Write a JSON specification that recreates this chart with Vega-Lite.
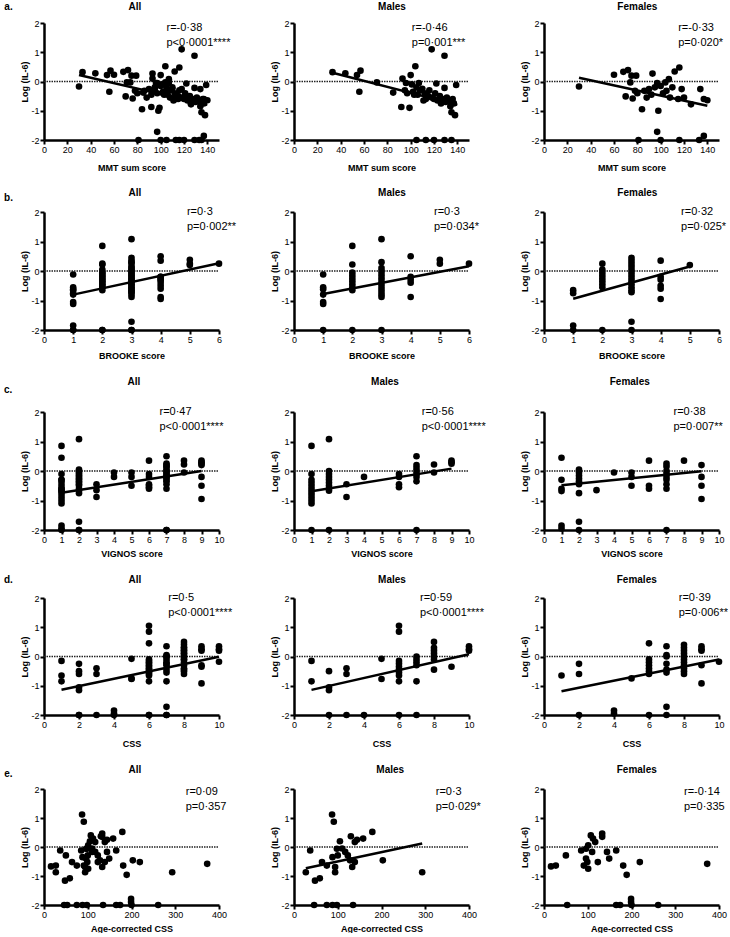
{
"$schema":"https://vega.github.io/schema/vega-lite/v6.json",
"padding":{"left":3,"top":1,"right":0,"bottom":0},
"spacing":16,
"datasets":{
"mmt":[
{"x":33,"y":0.32,"s":"M"},{"x":44,"y":0.28,"s":"M"},{"x":54,"y":0.22,"s":"M"},{"x":57,"y":0.37,"s":"M"},{"x":56,"y":-0.35,"s":"M"},{"x":71,"y":-0.03,"s":"M"},{"x":85,"y":-0.38,"s":"M"},{"x":92,"y":-0.87,"s":"M"},{"x":93,"y":0.1,"s":"M"},{"x":95,"y":-0.3,"s":"M"},{"x":96,"y":-0.05,"s":"M"},{"x":97,"y":-0.4,"s":"M"},{"x":99,"y":-0.9,"s":"M"},{"x":100,"y":0.22,"s":"M"},{"x":101,"y":-0.1,"s":"M"},{"x":102,"y":-0.35,"s":"M"},{"x":103,"y":-0.45,"s":"M"},{"x":104,"y":0.52,"s":"M"},{"x":105,"y":-0.2,"s":"M"},{"x":106,"y":-0.45,"s":"M"},{"x":107,"y":-0.05,"s":"M"},{"x":108,"y":-0.3,"s":"M"},{"x":110,"y":-0.25,"s":"M"},{"x":111,"y":-0.65,"s":"M"},{"x":112,"y":-0.4,"s":"M"},{"x":113,"y":-0.6,"s":"M"},{"x":115,"y":-0.5,"s":"M"},{"x":116,"y":-0.3,"s":"M"},{"x":118,"y":1.1,"s":"M"},{"x":118,"y":-0.55,"s":"M"},{"x":120,"y":-0.6,"s":"M"},{"x":121,"y":-0.4,"s":"M"},{"x":122,"y":-0.07,"s":"M"},{"x":123,"y":-0.65,"s":"M"},{"x":125,"y":-0.5,"s":"M"},{"x":126,"y":-0.75,"s":"M"},{"x":128,"y":-0.6,"s":"M"},{"x":129,"y":0.88,"s":"M"},{"x":129,"y":-0.22,"s":"M"},{"x":130,"y":-0.7,"s":"M"},{"x":131,"y":-0.55,"s":"M"},{"x":133,"y":-0.65,"s":"M"},{"x":134,"y":-0.85,"s":"M"},{"x":135,"y":-1.05,"s":"M"},{"x":136,"y":-0.6,"s":"M"},{"x":137,"y":-0.75,"s":"M"},{"x":138,"y":-1.15,"s":"M"},{"x":139,"y":-0.12,"s":"M"},{"x":105,"y":-2,"s":"M"},{"x":113,"y":-2,"s":"M"},{"x":120,"y":-2,"s":"M"},{"x":129,"y":-2,"s":"M"},{"x":135,"y":-2,"s":"M"},
{"x":30,"y":-0.17,"s":"F"},{"x":60,"y":0.23,"s":"F"},{"x":68,"y":0.33,"s":"F"},{"x":72,"y":0.39,"s":"F"},{"x":74,"y":-0.03,"s":"F"},{"x":75,"y":0.2,"s":"F"},{"x":79,"y":0.2,"s":"F"},{"x":70,"y":-0.51,"s":"F"},{"x":76,"y":-0.58,"s":"F"},{"x":78,"y":-0.32,"s":"F"},{"x":80,"y":-0.4,"s":"F"},{"x":84,"y":-0.95,"s":"F"},{"x":86,"y":-0.32,"s":"F"},{"x":88,"y":-0.55,"s":"F"},{"x":90,"y":-0.26,"s":"F"},{"x":92,"y":-0.45,"s":"F"},{"x":93,"y":0.27,"s":"F"},{"x":95,"y":-0.2,"s":"F"},{"x":97,"y":-0.05,"s":"F"},{"x":98,"y":-1.0,"s":"F"},{"x":100,"y":-0.15,"s":"F"},{"x":102,"y":-0.4,"s":"F"},{"x":104,"y":-0.03,"s":"F"},{"x":105,"y":-0.32,"s":"F"},{"x":107,"y":0.08,"s":"F"},{"x":108,"y":-0.55,"s":"F"},{"x":110,"y":-0.2,"s":"F"},{"x":112,"y":0.34,"s":"F"},{"x":115,"y":-0.6,"s":"F"},{"x":116,"y":0.48,"s":"F"},{"x":118,"y":-0.26,"s":"F"},{"x":120,"y":-0.55,"s":"F"},{"x":126,"y":-0.78,"s":"F"},{"x":134,"y":-0.26,"s":"F"},{"x":137,"y":-0.6,"s":"F"},{"x":140,"y":-0.64,"s":"F"},{"x":97,"y":-1.72,"s":"F"},{"x":81,"y":-2,"s":"F"},{"x":100,"y":-2,"s":"F"},{"x":116,"y":-2,"s":"F"},{"x":133,"y":-2,"s":"F"},{"x":137,"y":-1.86,"s":"F"}
],
"brooke":[
{"x":1,"y":-0.12,"s":"M"},{"x":1,"y":-0.55,"s":"M"},{"x":1,"y":-0.62,"s":"M"},{"x":1,"y":-0.8,"s":"M"},{"x":1,"y":-1.05,"s":"M"},{"x":1,"y":-1.12,"s":"M"},{"x":1,"y":-2,"s":"M"},
{"x":2,"y":0.85,"s":"M"},{"x":2,"y":0.22,"s":"M"},{"x":2,"y":-0.05,"s":"M"},{"x":2,"y":-0.15,"s":"M"},{"x":2,"y":-0.25,"s":"M"},{"x":2,"y":-0.35,"s":"M"},{"x":2,"y":-0.45,"s":"M"},{"x":2,"y":-0.55,"s":"M"},{"x":2,"y":-0.65,"s":"M"},{"x":2,"y":-2,"s":"M"},
{"x":3,"y":1.08,"s":"M"},{"x":3,"y":0.3,"s":"M"},{"x":3,"y":0.1,"s":"M"},{"x":3,"y":0,"s":"M"},{"x":3,"y":-0.1,"s":"M"},{"x":3,"y":-0.2,"s":"M"},{"x":3,"y":-0.3,"s":"M"},{"x":3,"y":-0.4,"s":"M"},{"x":3,"y":-0.5,"s":"M"},{"x":3,"y":-0.6,"s":"M"},{"x":3,"y":-0.7,"s":"M"},{"x":3,"y":-0.8,"s":"M"},{"x":3,"y":-0.88,"s":"M"},{"x":3,"y":-2,"s":"M"},
{"x":4,"y":0.5,"s":"M"},{"x":4,"y":-0.2,"s":"M"},{"x":4,"y":-0.3,"s":"M"},{"x":4,"y":-0.4,"s":"M"},{"x":4,"y":-0.88,"s":"M"},
{"x":5,"y":0.38,"s":"M"},{"x":5,"y":0.25,"s":"M"},{"x":6,"y":0.25,"s":"M"},
{"x":1,"y":-0.65,"s":"F"},{"x":1,"y":-0.75,"s":"F"},{"x":1,"y":-1.85,"s":"F"},{"x":1,"y":-2,"s":"F"},
{"x":2,"y":0.25,"s":"F"},{"x":2,"y":0.05,"s":"F"},{"x":2,"y":-0.05,"s":"F"},{"x":2,"y":-0.15,"s":"F"},{"x":2,"y":-0.25,"s":"F"},{"x":2,"y":-0.35,"s":"F"},{"x":2,"y":-0.45,"s":"F"},{"x":2,"y":-0.55,"s":"F"},{"x":2,"y":-2,"s":"F"},
{"x":3,"y":0.45,"s":"F"},{"x":3,"y":0.35,"s":"F"},{"x":3,"y":0.25,"s":"F"},{"x":3,"y":0.15,"s":"F"},{"x":3,"y":0.05,"s":"F"},{"x":3,"y":-0.05,"s":"F"},{"x":3,"y":-0.15,"s":"F"},{"x":3,"y":-0.25,"s":"F"},{"x":3,"y":-0.35,"s":"F"},{"x":3,"y":-0.45,"s":"F"},{"x":3,"y":-0.55,"s":"F"},{"x":3,"y":-0.65,"s":"F"},{"x":3,"y":-0.72,"s":"F"},{"x":3,"y":-1.72,"s":"F"},{"x":3,"y":-2,"s":"F"},
{"x":4,"y":0.35,"s":"F"},{"x":4,"y":-0.2,"s":"F"},{"x":4,"y":-0.3,"s":"F"},{"x":4,"y":-0.5,"s":"F"},{"x":4,"y":-0.6,"s":"F"},{"x":4,"y":-0.95,"s":"F"},{"x":5,"y":0.2,"s":"F"}
],
"vignos":[
{"x":1,"y":0.85,"s":"M"},{"x":1,"y":-0.1,"s":"M"},{"x":1,"y":-0.3,"s":"M"},{"x":1,"y":-0.4,"s":"M"},{"x":1,"y":-0.5,"s":"M"},{"x":1,"y":-0.6,"s":"M"},{"x":1,"y":-0.7,"s":"M"},{"x":1,"y":-0.8,"s":"M"},{"x":1,"y":-0.9,"s":"M"},{"x":1,"y":-1.0,"s":"M"},{"x":1,"y":-1.1,"s":"M"},{"x":1,"y":-2,"s":"M"},
{"x":2,"y":1.08,"s":"M"},{"x":2,"y":0,"s":"M"},{"x":2,"y":-0.1,"s":"M"},{"x":2,"y":-0.2,"s":"M"},{"x":2,"y":-0.3,"s":"M"},{"x":2,"y":-0.4,"s":"M"},{"x":2,"y":-0.5,"s":"M"},{"x":2,"y":-0.6,"s":"M"},{"x":2,"y":-0.67,"s":"M"},{"x":2,"y":-2,"s":"M"},
{"x":3,"y":-0.45,"s":"M"},{"x":3,"y":-0.88,"s":"M"},{"x":4,"y":-0.2,"s":"M"},
{"x":6,"y":-0.1,"s":"M"},{"x":6,"y":-0.2,"s":"M"},{"x":6,"y":-0.45,"s":"M"},{"x":6,"y":-0.55,"s":"M"},
{"x":7,"y":0.5,"s":"M"},{"x":7,"y":0.2,"s":"M"},{"x":7,"y":0.1,"s":"M"},{"x":7,"y":0,"s":"M"},{"x":7,"y":-0.1,"s":"M"},{"x":7,"y":-0.2,"s":"M"},{"x":7,"y":-0.35,"s":"M"},{"x":7,"y":-2,"s":"M"},
{"x":8,"y":0.22,"s":"M"},{"x":8,"y":-0.05,"s":"M"},{"x":9,"y":0.35,"s":"M"},{"x":9,"y":0.3,"s":"M"},{"x":9,"y":0.25,"s":"M"},
{"x":1,"y":0.45,"s":"F"},{"x":1,"y":-0.3,"s":"F"},{"x":1,"y":-0.6,"s":"F"},{"x":1,"y":-0.68,"s":"F"},{"x":1,"y":-1.85,"s":"F"},{"x":1,"y":-1.95,"s":"F"},
{"x":2,"y":0.05,"s":"F"},{"x":2,"y":-0.05,"s":"F"},{"x":2,"y":-0.15,"s":"F"},{"x":2,"y":-0.25,"s":"F"},{"x":2,"y":-0.35,"s":"F"},{"x":2,"y":-0.45,"s":"F"},{"x":2,"y":-0.75,"s":"F"},{"x":2,"y":-1.72,"s":"F"},{"x":2,"y":-2,"s":"F"},
{"x":3,"y":-0.65,"s":"F"},{"x":4,"y":-0.05,"s":"F"},{"x":5,"y":-0.05,"s":"F"},{"x":5,"y":-0.2,"s":"F"},{"x":5,"y":-0.5,"s":"F"},
{"x":6,"y":0.35,"s":"F"},{"x":6,"y":-0.5,"s":"F"},{"x":6,"y":-0.6,"s":"F"},
{"x":7,"y":0.25,"s":"F"},{"x":7,"y":0.15,"s":"F"},{"x":7,"y":0,"s":"F"},{"x":7,"y":-0.1,"s":"F"},{"x":7,"y":-0.2,"s":"F"},{"x":7,"y":-0.3,"s":"F"},{"x":7,"y":-0.45,"s":"F"},{"x":7,"y":-0.6,"s":"F"},{"x":7,"y":-2,"s":"F"},
{"x":8,"y":0.35,"s":"F"},{"x":9,"y":0.2,"s":"F"},{"x":9,"y":-0.2,"s":"F"},{"x":9,"y":-0.5,"s":"F"},{"x":9,"y":-0.95,"s":"F"}
],
"css":[
{"x":1,"y":-0.15,"s":"M"},{"x":1,"y":-0.85,"s":"M"},{"x":2,"y":-0.5,"s":"M"},{"x":2,"y":-1.05,"s":"M"},{"x":2,"y":-1.15,"s":"M"},{"x":2,"y":-2,"s":"M"},{"x":3,"y":-0.4,"s":"M"},{"x":3,"y":-0.6,"s":"M"},{"x":3,"y":-2,"s":"M"},{"x":4,"y":-2,"s":"M"},{"x":5,"y":-0.08,"s":"M"},{"x":5,"y":-0.77,"s":"M"},
{"x":6,"y":1.05,"s":"M"},{"x":6,"y":0.85,"s":"M"},{"x":6,"y":-0.15,"s":"M"},{"x":6,"y":-0.25,"s":"M"},{"x":6,"y":-0.35,"s":"M"},{"x":6,"y":-0.45,"s":"M"},{"x":6,"y":-0.55,"s":"M"},{"x":6,"y":-0.65,"s":"M"},{"x":6,"y":-0.85,"s":"M"},{"x":6,"y":-2,"s":"M"},
{"x":7,"y":0,"s":"M"},{"x":7,"y":-0.1,"s":"M"},{"x":7,"y":-0.2,"s":"M"},{"x":7,"y":-0.3,"s":"M"},{"x":7,"y":-0.85,"s":"M"},{"x":7,"y":-2,"s":"M"},
{"x":8,"y":0.5,"s":"M"},{"x":8,"y":0.3,"s":"M"},{"x":8,"y":0.2,"s":"M"},{"x":8,"y":0.1,"s":"M"},{"x":8,"y":0,"s":"M"},{"x":8,"y":-0.1,"s":"M"},{"x":8,"y":-0.45,"s":"M"},{"x":9,"y":-0.35,"s":"M"},
{"x":10,"y":0.35,"s":"M"},{"x":10,"y":0.25,"s":"M"},{"x":10,"y":0.2,"s":"M"},
{"x":1,"y":-0.65,"s":"F"},{"x":2,"y":-0.25,"s":"F"},{"x":2,"y":-0.6,"s":"F"},{"x":2,"y":-2,"s":"F"},{"x":4,"y":-1.85,"s":"F"},{"x":4,"y":-1.95,"s":"F"},{"x":5,"y":-0.75,"s":"F"},
{"x":6,"y":0.45,"s":"F"},{"x":6,"y":-0.1,"s":"F"},{"x":6,"y":-0.2,"s":"F"},{"x":6,"y":-0.3,"s":"F"},{"x":6,"y":-0.4,"s":"F"},{"x":6,"y":-0.5,"s":"F"},{"x":6,"y":-0.6,"s":"F"},{"x":6,"y":-2,"s":"F"},
{"x":7,"y":0.35,"s":"F"},{"x":7,"y":0.05,"s":"F"},{"x":7,"y":0,"s":"F"},{"x":7,"y":-0.25,"s":"F"},{"x":7,"y":-0.45,"s":"F"},{"x":7,"y":-0.55,"s":"F"},{"x":7,"y":-1.72,"s":"F"},{"x":7,"y":-2,"s":"F"},
{"x":8,"y":0.4,"s":"F"},{"x":8,"y":0.3,"s":"F"},{"x":8,"y":0.2,"s":"F"},{"x":8,"y":0.1,"s":"F"},{"x":8,"y":0,"s":"F"},{"x":8,"y":-0.1,"s":"F"},{"x":8,"y":-0.2,"s":"F"},{"x":8,"y":-0.3,"s":"F"},{"x":8,"y":-0.4,"s":"F"},{"x":8,"y":-0.5,"s":"F"},{"x":8,"y":-0.6,"s":"F"},
{"x":9,"y":0.35,"s":"F"},{"x":9,"y":0.25,"s":"F"},{"x":9,"y":0.2,"s":"F"},{"x":9,"y":-0.3,"s":"F"},{"x":9,"y":-0.92,"s":"F"},{"x":10,"y":-0.18,"s":"F"}
],
"acss":[
{"x":27,"y":-0.87,"s":"M"},{"x":37,"y":-0.12,"s":"M"},{"x":48,"y":-1.16,"s":"M"},{"x":59,"y":-1.08,"s":"M"},{"x":64,"y":-0.52,"s":"M"},{"x":75,"y":-0.64,"s":"M"},{"x":87,"y":1.12,"s":"M"},{"x":91,"y":0.87,"s":"M"},{"x":88,"y":-0.35,"s":"M"},{"x":94,"y":-0.69,"s":"M"},{"x":94,"y":-0.87,"s":"M"},{"x":98,"y":-0.06,"s":"M"},{"x":100,"y":-0.29,"s":"M"},{"x":105,"y":0.2,"s":"M"},{"x":110,"y":-0.05,"s":"M"},{"x":117,"y":-0.17,"s":"M"},{"x":123,"y":-0.29,"s":"M"},{"x":128,"y":-0.46,"s":"M"},{"x":130,"y":0.37,"s":"M"},{"x":133,"y":-0.69,"s":"M"},{"x":139,"y":0.17,"s":"M"},{"x":139,"y":-0.52,"s":"M"},{"x":144,"y":0.25,"s":"M"},{"x":158,"y":0.29,"s":"M"},{"x":179,"y":0.52,"s":"M"},{"x":203,"y":-0.46,"s":"M"},{"x":293,"y":-0.87,"s":"M"},{"x":46,"y":-2,"s":"M"},{"x":75,"y":-2,"s":"M"},{"x":88,"y":-2,"s":"M"},{"x":98,"y":-2,"s":"M"},{"x":135,"y":-2,"s":"M"},
{"x":16,"y":-0.67,"s":"F"},{"x":27,"y":-0.64,"s":"F"},{"x":50,"y":-0.29,"s":"F"},{"x":85,"y":-0.12,"s":"F"},{"x":91,"y":-0.64,"s":"F"},{"x":96,"y":-0.4,"s":"F"},{"x":96,"y":-0.06,"s":"F"},{"x":99,"y":-0.52,"s":"F"},{"x":101,"y":-0.75,"s":"F"},{"x":101,"y":0.06,"s":"F"},{"x":107,"y":0.4,"s":"F"},{"x":112,"y":0.29,"s":"F"},{"x":117,"y":0.17,"s":"F"},{"x":110,"y":-0.17,"s":"F"},{"x":123,"y":-0.52,"s":"F"},{"x":133,"y":0.46,"s":"F"},{"x":133,"y":0.35,"s":"F"},{"x":144,"y":-0.17,"s":"F"},{"x":149,"y":-0.4,"s":"F"},{"x":165,"y":-0.12,"s":"F"},{"x":181,"y":-0.64,"s":"F"},{"x":189,"y":-0.96,"s":"F"},{"x":219,"y":-0.52,"s":"F"},{"x":373,"y":-0.58,"s":"F"},{"x":53,"y":-2,"s":"F"},{"x":165,"y":-2,"s":"F"},{"x":174,"y":-2,"s":"F"},{"x":199,"y":-1.79,"s":"F"},{"x":199,"y":-1.9,"s":"F"},{"x":200,"y":-2,"s":"F"},{"x":261,"y":-2,"s":"F"}
],
"lines":[
{"k":"aA","x":30,"y":0.22},{"k":"aA","x":140,"y":-0.8},
{"k":"aM","x":33,"y":0.3},{"k":"aM","x":140,"y":-0.8},
{"k":"aF","x":30,"y":0.13},{"k":"aF","x":140,"y":-0.83},
{"k":"bA","x":1,"y":-0.8},{"k":"bA","x":6,"y":0.26},
{"k":"bM","x":1,"y":-0.78},{"k":"bM","x":6,"y":0.16},
{"k":"bF","x":1,"y":-0.94},{"k":"bF","x":5,"y":0.15},
{"k":"cA","x":1,"y":-0.74},{"k":"cA","x":9,"y":0.0},
{"k":"cM","x":1,"y":-0.69},{"k":"cM","x":9,"y":0.08},
{"k":"cF","x":1,"y":-0.48},{"k":"cF","x":9,"y":-0.01},
{"k":"dA","x":1,"y":-1.14},{"k":"dA","x":10,"y":-0.01},
{"k":"dM","x":1,"y":-1.14},{"k":"dM","x":10,"y":0.08},
{"k":"dF","x":1,"y":-1.19},{"k":"dF","x":10,"y":-0.1},
{"k":"eM","x":27,"y":-0.73},{"k":"eM","x":293,"y":0.12}
],
"one":[{"v":0}]
},
"vconcat":[
{"bounds":"flush","spacing":75,"hconcat":[
{"width":175,"height":117,
"layer":[
{"data":{"name":"one"},"mark":{"type":"rule","strokeDash":[1.5,1],"strokeWidth":1.5,"color":"#222"},"encoding":{"x":{"datum":0},"x2":{"datum":150},"y":{"datum":0}}},
{"data":{"name":"mmt"},"mark":{"type":"circle","size":44,"opacity":1,"color":"black"},"encoding":{"x":{"field":"x","type":"quantitative","scale":{"domain":[0,150],"nice":false,"zero":false},"axis":{"values":[0,20,40,60,80,100,120,140],"tickCount":20,"title":"MMT sum score","titlePadding":9}},"y":{"field":"y","type":"quantitative","scale":{"domain":[-2,2],"nice":false},"axis":{"values":[-2,-1,0,1,2],"tickCount":20,"title":"Log (IL-6)"}}}},
{"data":{"name":"lines"},"transform":[{"filter":"datum.k==='aA'"}],"mark":{"type":"line","strokeWidth":2.5,"color":"black"},"encoding":{"x":{"field":"x","type":"quantitative"},"y":{"field":"y","type":"quantitative"}}},
{"data":{"name":"one"},"mark":{"type":"text","text":["r=-0·38","p<0·0001****"],"align":"left","baseline":"top","fontSize":11,"lineHeight":15},"encoding":{"x":{"datum":105},"y":{"datum":2.03}}},
{"data":{"name":"one"},"mark":{"type":"text","text":"All","align":"center","baseline":"middle","fontSize":10,"fontWeight":"bold"},"encoding":{"x":{"datum":78},"y":{"datum":2.55}}},
{"data":{"name":"one"},"mark":{"type":"text","text":"a.","align":"left","baseline":"middle","fontSize":10,"fontWeight":"bold"},"encoding":{"x":{"datum":-34},"y":{"datum":2.55}}}
]},
{"width":175,"height":117,
"layer":[
{"data":{"name":"one"},"mark":{"type":"rule","strokeDash":[1.5,1],"strokeWidth":1.5,"color":"#222"},"encoding":{"x":{"datum":0},"x2":{"datum":150},"y":{"datum":0}}},
{"data":{"name":"mmt"},"transform":[{"filter":"datum.s==='M'"}],"mark":{"type":"circle","size":44,"opacity":1,"color":"black"},"encoding":{"x":{"field":"x","type":"quantitative","scale":{"domain":[0,150],"nice":false,"zero":false},"axis":{"values":[0,20,40,60,80,100,120,140],"tickCount":20,"title":"MMT sum score","titlePadding":9}},"y":{"field":"y","type":"quantitative","scale":{"domain":[-2,2],"nice":false},"axis":{"values":[-2,-1,0,1,2],"tickCount":20,"title":"Log (IL-6)"}}}},
{"data":{"name":"lines"},"transform":[{"filter":"datum.k==='aM'"}],"mark":{"type":"line","strokeWidth":2.5,"color":"black"},"encoding":{"x":{"field":"x","type":"quantitative"},"y":{"field":"y","type":"quantitative"}}},
{"data":{"name":"one"},"mark":{"type":"text","text":["r=-0·46","p=0·001***"],"align":"left","baseline":"top","fontSize":11,"lineHeight":15},"encoding":{"x":{"datum":101},"y":{"datum":2.03}}},
{"data":{"name":"one"},"mark":{"type":"text","text":"Males","align":"center","baseline":"middle","fontSize":10,"fontWeight":"bold"},"encoding":{"x":{"datum":84},"y":{"datum":2.55}}}
]},
{"width":175,"height":117,
"layer":[
{"data":{"name":"one"},"mark":{"type":"rule","strokeDash":[1.5,1],"strokeWidth":1.5,"color":"#222"},"encoding":{"x":{"datum":0},"x2":{"datum":150},"y":{"datum":0}}},
{"data":{"name":"mmt"},"transform":[{"filter":"datum.s==='F'"}],"mark":{"type":"circle","size":44,"opacity":1,"color":"black"},"encoding":{"x":{"field":"x","type":"quantitative","scale":{"domain":[0,150],"nice":false,"zero":false},"axis":{"values":[0,20,40,60,80,100,120,140],"tickCount":20,"title":"MMT sum score","titlePadding":9}},"y":{"field":"y","type":"quantitative","scale":{"domain":[-2,2],"nice":false},"axis":{"values":[-2,-1,0,1,2],"tickCount":20,"title":"Log (IL-6)"}}}},
{"data":{"name":"lines"},"transform":[{"filter":"datum.k==='aF'"}],"mark":{"type":"line","strokeWidth":2.5,"color":"black"},"encoding":{"x":{"field":"x","type":"quantitative"},"y":{"field":"y","type":"quantitative"}}},
{"data":{"name":"one"},"mark":{"type":"text","text":["r=-0·33","p=0·020*"],"align":"left","baseline":"top","fontSize":11,"lineHeight":15},"encoding":{"x":{"datum":115},"y":{"datum":2.03}}},
{"data":{"name":"one"},"mark":{"type":"text","text":"Females","align":"center","baseline":"middle","fontSize":10,"fontWeight":"bold"},"encoding":{"x":{"datum":80},"y":{"datum":2.55}}}
]}
]},
{"bounds":"flush","spacing":75,"hconcat":[
{"width":175,"height":118,
"layer":[
{"data":{"name":"one"},"mark":{"type":"rule","strokeDash":[1.5,1],"strokeWidth":1.5,"color":"#222"},"encoding":{"x":{"datum":0},"x2":{"datum":6},"y":{"datum":0}}},
{"data":{"name":"brooke"},"mark":{"type":"circle","size":44,"opacity":1,"color":"black"},"encoding":{"x":{"field":"x","type":"quantitative","scale":{"domain":[0,6],"nice":false,"zero":false},"axis":{"values":[0,1,2,3,4,5,6],"tickCount":20,"title":"BROOKE score","titlePadding":7}},"y":{"field":"y","type":"quantitative","scale":{"domain":[-2,2],"nice":false},"axis":{"values":[-2,-1,0,1,2],"tickCount":20,"title":"Log (IL-6)"}}}},
{"data":{"name":"lines"},"transform":[{"filter":"datum.k==='bA'"}],"mark":{"type":"line","strokeWidth":2.5,"color":"black"},"encoding":{"x":{"field":"x","type":"quantitative"},"y":{"field":"y","type":"quantitative"}}},
{"data":{"name":"one"},"mark":{"type":"text","text":["r=0·3","p=0·002**"],"align":"left","baseline":"top","fontSize":11,"lineHeight":15},"encoding":{"x":{"datum":4.9},"y":{"datum":2.2}}},
{"data":{"name":"one"},"mark":{"type":"text","text":"All","align":"center","baseline":"middle","fontSize":10,"fontWeight":"bold"},"encoding":{"x":{"datum":3.12},"y":{"datum":2.64}}},
{"data":{"name":"one"},"mark":{"type":"text","text":"b.","align":"left","baseline":"middle","fontSize":10,"fontWeight":"bold"},"encoding":{"x":{"datum":-1.37},"y":{"datum":2.47}}}
]},
{"width":175,"height":118,
"layer":[
{"data":{"name":"one"},"mark":{"type":"rule","strokeDash":[1.5,1],"strokeWidth":1.5,"color":"#222"},"encoding":{"x":{"datum":0},"x2":{"datum":6},"y":{"datum":0}}},
{"data":{"name":"brooke"},"transform":[{"filter":"datum.s==='M'"}],"mark":{"type":"circle","size":44,"opacity":1,"color":"black"},"encoding":{"x":{"field":"x","type":"quantitative","scale":{"domain":[0,6],"nice":false,"zero":false},"axis":{"values":[0,1,2,3,4,5,6],"tickCount":20,"title":"BROOKE score","titlePadding":7}},"y":{"field":"y","type":"quantitative","scale":{"domain":[-2,2],"nice":false},"axis":{"values":[-2,-1,0,1,2],"tickCount":20,"title":"Log (IL-6)"}}}},
{"data":{"name":"lines"},"transform":[{"filter":"datum.k==='bM'"}],"mark":{"type":"line","strokeWidth":2.5,"color":"black"},"encoding":{"x":{"field":"x","type":"quantitative"},"y":{"field":"y","type":"quantitative"}}},
{"data":{"name":"one"},"mark":{"type":"text","text":["r=0·3","p=0·034*"],"align":"left","baseline":"top","fontSize":11,"lineHeight":15},"encoding":{"x":{"datum":4.8},"y":{"datum":2.2}}},
{"data":{"name":"one"},"mark":{"type":"text","text":"Males","align":"center","baseline":"middle","fontSize":10,"fontWeight":"bold"},"encoding":{"x":{"datum":3.36},"y":{"datum":2.64}}}
]},
{"width":175,"height":118,
"layer":[
{"data":{"name":"one"},"mark":{"type":"rule","strokeDash":[1.5,1],"strokeWidth":1.5,"color":"#222"},"encoding":{"x":{"datum":0},"x2":{"datum":6},"y":{"datum":0}}},
{"data":{"name":"brooke"},"transform":[{"filter":"datum.s==='F'"}],"mark":{"type":"circle","size":44,"opacity":1,"color":"black"},"encoding":{"x":{"field":"x","type":"quantitative","scale":{"domain":[0,6],"nice":false,"zero":false},"axis":{"values":[0,1,2,3,4,5,6],"tickCount":20,"title":"BROOKE score","titlePadding":7}},"y":{"field":"y","type":"quantitative","scale":{"domain":[-2,2],"nice":false},"axis":{"values":[-2,-1,0,1,2],"tickCount":20,"title":"Log (IL-6)"}}}},
{"data":{"name":"lines"},"transform":[{"filter":"datum.k==='bF'"}],"mark":{"type":"line","strokeWidth":2.5,"color":"black"},"encoding":{"x":{"field":"x","type":"quantitative"},"y":{"field":"y","type":"quantitative"}}},
{"data":{"name":"one"},"mark":{"type":"text","text":["r=0·32","p=0·025*"],"align":"left","baseline":"top","fontSize":11,"lineHeight":15},"encoding":{"x":{"datum":4.7},"y":{"datum":2.2}}},
{"data":{"name":"one"},"mark":{"type":"text","text":"Females","align":"center","baseline":"middle","fontSize":10,"fontWeight":"bold"},"encoding":{"x":{"datum":3.2},"y":{"datum":2.64}}}
]}
]},
{"bounds":"flush","spacing":75,"hconcat":[
{"width":175,"height":118,
"layer":[
{"data":{"name":"one"},"mark":{"type":"rule","strokeDash":[1.5,1],"strokeWidth":1.5,"color":"#222"},"encoding":{"x":{"datum":0},"x2":{"datum":10},"y":{"datum":0}}},
{"data":{"name":"vignos"},"mark":{"type":"circle","size":44,"opacity":1,"color":"black"},"encoding":{"x":{"field":"x","type":"quantitative","scale":{"domain":[0,10],"nice":false,"zero":false},"axis":{"values":[0,1,2,3,4,5,6,7,8,9,10],"tickCount":20,"title":"VIGNOS score","titlePadding":5}},"y":{"field":"y","type":"quantitative","scale":{"domain":[-2,2],"nice":false},"axis":{"values":[-2,-1,0,1,2],"tickCount":20,"title":"Log (IL-6)"}}}},
{"data":{"name":"lines"},"transform":[{"filter":"datum.k==='cA'"}],"mark":{"type":"line","strokeWidth":2.5,"color":"black"},"encoding":{"x":{"field":"x","type":"quantitative"},"y":{"field":"y","type":"quantitative"}}},
{"data":{"name":"one"},"mark":{"type":"text","text":["r=0·47","p<0·0001****"],"align":"left","baseline":"top","fontSize":11,"lineHeight":15},"encoding":{"x":{"datum":6.6},"y":{"datum":2.2}}},
{"data":{"name":"one"},"mark":{"type":"text","text":"All","align":"center","baseline":"middle","fontSize":10,"fontWeight":"bold"},"encoding":{"x":{"datum":5.14},"y":{"datum":3.02}}},
{"data":{"name":"one"},"mark":{"type":"text","text":"c.","align":"left","baseline":"middle","fontSize":10,"fontWeight":"bold"},"encoding":{"x":{"datum":-2.29},"y":{"datum":2.75}}}
]},
{"width":175,"height":118,
"layer":[
{"data":{"name":"one"},"mark":{"type":"rule","strokeDash":[1.5,1],"strokeWidth":1.5,"color":"#222"},"encoding":{"x":{"datum":0},"x2":{"datum":10},"y":{"datum":0}}},
{"data":{"name":"vignos"},"transform":[{"filter":"datum.s==='M'"}],"mark":{"type":"circle","size":44,"opacity":1,"color":"black"},"encoding":{"x":{"field":"x","type":"quantitative","scale":{"domain":[0,10],"nice":false,"zero":false},"axis":{"values":[0,1,2,3,4,5,6,7,8,9,10],"tickCount":20,"title":"VIGNOS score","titlePadding":5}},"y":{"field":"y","type":"quantitative","scale":{"domain":[-2,2],"nice":false},"axis":{"values":[-2,-1,0,1,2],"tickCount":20,"title":"Log (IL-6)"}}}},
{"data":{"name":"lines"},"transform":[{"filter":"datum.k==='cM'"}],"mark":{"type":"line","strokeWidth":2.5,"color":"black"},"encoding":{"x":{"field":"x","type":"quantitative"},"y":{"field":"y","type":"quantitative"}}},
{"data":{"name":"one"},"mark":{"type":"text","text":["r=0·56","p<0·0001****"],"align":"left","baseline":"top","fontSize":11,"lineHeight":15},"encoding":{"x":{"datum":7.3},"y":{"datum":2.2}}},
{"data":{"name":"one"},"mark":{"type":"text","text":"Males","align":"center","baseline":"middle","fontSize":10,"fontWeight":"bold"},"encoding":{"x":{"datum":5.2},"y":{"datum":3.02}}}
]},
{"width":175,"height":118,
"layer":[
{"data":{"name":"one"},"mark":{"type":"rule","strokeDash":[1.5,1],"strokeWidth":1.5,"color":"#222"},"encoding":{"x":{"datum":0},"x2":{"datum":10},"y":{"datum":0}}},
{"data":{"name":"vignos"},"transform":[{"filter":"datum.s==='F'"}],"mark":{"type":"circle","size":44,"opacity":1,"color":"black"},"encoding":{"x":{"field":"x","type":"quantitative","scale":{"domain":[0,10],"nice":false,"zero":false},"axis":{"values":[0,1,2,3,4,5,6,7,8,9,10],"tickCount":20,"title":"VIGNOS score","titlePadding":5}},"y":{"field":"y","type":"quantitative","scale":{"domain":[-2,2],"nice":false},"axis":{"values":[-2,-1,0,1,2],"tickCount":20,"title":"Log (IL-6)"}}}},
{"data":{"name":"lines"},"transform":[{"filter":"datum.k==='cF'"}],"mark":{"type":"line","strokeWidth":2.5,"color":"black"},"encoding":{"x":{"field":"x","type":"quantitative"},"y":{"field":"y","type":"quantitative"}}},
{"data":{"name":"one"},"mark":{"type":"text","text":["r=0·38","p=0·007**"],"align":"left","baseline":"top","fontSize":11,"lineHeight":15},"encoding":{"x":{"datum":7.4},"y":{"datum":2.2}}},
{"data":{"name":"one"},"mark":{"type":"text","text":"Females","align":"center","baseline":"middle","fontSize":10,"fontWeight":"bold"},"encoding":{"x":{"datum":4.9},"y":{"datum":3.02}}}
]}
]},
{"bounds":"flush","spacing":75,"hconcat":[
{"width":175,"height":117,
"layer":[
{"data":{"name":"one"},"mark":{"type":"rule","strokeDash":[1.5,1],"strokeWidth":1.5,"color":"#222"},"encoding":{"x":{"datum":0},"x2":{"datum":10},"y":{"datum":0}}},
{"data":{"name":"css"},"mark":{"type":"circle","size":44,"opacity":1,"color":"black"},"encoding":{"x":{"field":"x","type":"quantitative","scale":{"domain":[0,10],"nice":false,"zero":false},"axis":{"values":[0,2,4,6,8,10],"tickCount":20,"title":"CSS","titlePadding":10}},"y":{"field":"y","type":"quantitative","scale":{"domain":[-2,2],"nice":false},"axis":{"values":[-2,-1,0,1,2],"tickCount":20,"title":"Log (IL-6)"}}}},
{"data":{"name":"lines"},"transform":[{"filter":"datum.k==='dA'"}],"mark":{"type":"line","strokeWidth":2.5,"color":"black"},"encoding":{"x":{"field":"x","type":"quantitative"},"y":{"field":"y","type":"quantitative"}}},
{"data":{"name":"one"},"mark":{"type":"text","text":["r=0·5","p<0·0001****"],"align":"left","baseline":"top","fontSize":11,"lineHeight":15},"encoding":{"x":{"datum":7.1},"y":{"datum":2.2}}},
{"data":{"name":"one"},"mark":{"type":"text","text":"All","align":"center","baseline":"middle","fontSize":10,"fontWeight":"bold"},"encoding":{"x":{"datum":5.2},"y":{"datum":2.62}}},
{"data":{"name":"one"},"mark":{"type":"text","text":"d.","align":"left","baseline":"middle","fontSize":10,"fontWeight":"bold"},"encoding":{"x":{"datum":-2.29},"y":{"datum":2.62}}}
]},
{"width":175,"height":117,
"layer":[
{"data":{"name":"one"},"mark":{"type":"rule","strokeDash":[1.5,1],"strokeWidth":1.5,"color":"#222"},"encoding":{"x":{"datum":0},"x2":{"datum":10},"y":{"datum":0}}},
{"data":{"name":"css"},"transform":[{"filter":"datum.s==='M'"}],"mark":{"type":"circle","size":44,"opacity":1,"color":"black"},"encoding":{"x":{"field":"x","type":"quantitative","scale":{"domain":[0,10],"nice":false,"zero":false},"axis":{"values":[0,2,4,6,8,10],"tickCount":20,"title":"CSS","titlePadding":10}},"y":{"field":"y","type":"quantitative","scale":{"domain":[-2,2],"nice":false},"axis":{"values":[-2,-1,0,1,2],"tickCount":20,"title":"Log (IL-6)"}}}},
{"data":{"name":"lines"},"transform":[{"filter":"datum.k==='dM'"}],"mark":{"type":"line","strokeWidth":2.5,"color":"black"},"encoding":{"x":{"field":"x","type":"quantitative"},"y":{"field":"y","type":"quantitative"}}},
{"data":{"name":"one"},"mark":{"type":"text","text":["r=0·59","p<0·0001****"],"align":"left","baseline":"top","fontSize":11,"lineHeight":15},"encoding":{"x":{"datum":7.2},"y":{"datum":2.2}}},
{"data":{"name":"one"},"mark":{"type":"text","text":"Males","align":"center","baseline":"middle","fontSize":10,"fontWeight":"bold"},"encoding":{"x":{"datum":5.6},"y":{"datum":2.62}}}
]},
{"width":175,"height":117,
"layer":[
{"data":{"name":"one"},"mark":{"type":"rule","strokeDash":[1.5,1],"strokeWidth":1.5,"color":"#222"},"encoding":{"x":{"datum":0},"x2":{"datum":10},"y":{"datum":0}}},
{"data":{"name":"css"},"transform":[{"filter":"datum.s==='F'"}],"mark":{"type":"circle","size":44,"opacity":1,"color":"black"},"encoding":{"x":{"field":"x","type":"quantitative","scale":{"domain":[0,10],"nice":false,"zero":false},"axis":{"values":[0,2,4,6,8,10],"tickCount":20,"title":"CSS","titlePadding":10}},"y":{"field":"y","type":"quantitative","scale":{"domain":[-2,2],"nice":false},"axis":{"values":[-2,-1,0,1,2],"tickCount":20,"title":"Log (IL-6)"}}}},
{"data":{"name":"lines"},"transform":[{"filter":"datum.k==='dF'"}],"mark":{"type":"line","strokeWidth":2.5,"color":"black"},"encoding":{"x":{"field":"x","type":"quantitative"},"y":{"field":"y","type":"quantitative"}}},
{"data":{"name":"one"},"mark":{"type":"text","text":["r=0·39","p=0·006**"],"align":"left","baseline":"top","fontSize":11,"lineHeight":15},"encoding":{"x":{"datum":7.7},"y":{"datum":2.2}}},
{"data":{"name":"one"},"mark":{"type":"text","text":"Females","align":"center","baseline":"middle","fontSize":10,"fontWeight":"bold"},"encoding":{"x":{"datum":5.3},"y":{"datum":2.62}}}
]}
]},
{"bounds":"flush","spacing":75,"hconcat":[
{"width":175,"height":116,
"layer":[
{"data":{"name":"one"},"mark":{"type":"rule","strokeDash":[1.5,1],"strokeWidth":1.5,"color":"#222"},"encoding":{"x":{"datum":0},"x2":{"datum":400},"y":{"datum":0}}},
{"data":{"name":"acss"},"mark":{"type":"circle","size":44,"opacity":1,"color":"black"},"encoding":{"x":{"field":"x","type":"quantitative","scale":{"domain":[0,400],"nice":false,"zero":false},"axis":{"values":[0,100,200,300,400],"tickCount":20,"title":"Age-corrected CSS","titlePadding":5}},"y":{"field":"y","type":"quantitative","scale":{"domain":[-2,2],"nice":false},"axis":{"values":[-2,-1,0,1,2],"tickCount":20,"title":"Log (IL-6)"}}}},
{"data":{"name":"one"},"mark":{"type":"text","text":["r=0·09","p=0·357"],"align":"left","baseline":"top","fontSize":11,"lineHeight":15},"encoding":{"x":{"datum":324},"y":{"datum":2.1}}},
{"data":{"name":"one"},"mark":{"type":"text","text":"All","align":"center","baseline":"middle","fontSize":10,"fontWeight":"bold"},"encoding":{"x":{"datum":208},"y":{"datum":2.66}}},
{"data":{"name":"one"},"mark":{"type":"text","text":"e.","align":"left","baseline":"middle","fontSize":10,"fontWeight":"bold"},"encoding":{"x":{"datum":-91},"y":{"datum":2.52}}}
]},
{"width":175,"height":116,
"layer":[
{"data":{"name":"one"},"mark":{"type":"rule","strokeDash":[1.5,1],"strokeWidth":1.5,"color":"#222"},"encoding":{"x":{"datum":0},"x2":{"datum":400},"y":{"datum":0}}},
{"data":{"name":"acss"},"transform":[{"filter":"datum.s==='M'"}],"mark":{"type":"circle","size":44,"opacity":1,"color":"black"},"encoding":{"x":{"field":"x","type":"quantitative","scale":{"domain":[0,400],"nice":false,"zero":false},"axis":{"values":[0,100,200,300,400],"tickCount":20,"title":"Age-corrected CSS","titlePadding":5}},"y":{"field":"y","type":"quantitative","scale":{"domain":[-2,2],"nice":false},"axis":{"values":[-2,-1,0,1,2],"tickCount":20,"title":"Log (IL-6)"}}}},
{"data":{"name":"lines"},"transform":[{"filter":"datum.k==='eM'"}],"mark":{"type":"line","strokeWidth":2.5,"color":"black"},"encoding":{"x":{"field":"x","type":"quantitative"},"y":{"field":"y","type":"quantitative"}}},
{"data":{"name":"one"},"mark":{"type":"text","text":["r=0·3","p=0·029*"],"align":"left","baseline":"top","fontSize":11,"lineHeight":15},"encoding":{"x":{"datum":324},"y":{"datum":2.1}}},
{"data":{"name":"one"},"mark":{"type":"text","text":"Males","align":"center","baseline":"middle","fontSize":10,"fontWeight":"bold"},"encoding":{"x":{"datum":220},"y":{"datum":2.66}}}
]},
{"width":175,"height":116,
"layer":[
{"data":{"name":"one"},"mark":{"type":"rule","strokeDash":[1.5,1],"strokeWidth":1.5,"color":"#222"},"encoding":{"x":{"datum":0},"x2":{"datum":400},"y":{"datum":0}}},
{"data":{"name":"acss"},"transform":[{"filter":"datum.s==='F'"}],"mark":{"type":"circle","size":44,"opacity":1,"color":"black"},"encoding":{"x":{"field":"x","type":"quantitative","scale":{"domain":[0,400],"nice":false,"zero":false},"axis":{"values":[0,100,200,300,400],"tickCount":20,"title":"Age-corrected CSS","titlePadding":5}},"y":{"field":"y","type":"quantitative","scale":{"domain":[-2,2],"nice":false},"axis":{"values":[-2,-1,0,1,2],"tickCount":20,"title":"Log (IL-6)"}}}},
{"data":{"name":"one"},"mark":{"type":"text","text":["r=-0·14","p=0·335"],"align":"left","baseline":"top","fontSize":11,"lineHeight":15},"encoding":{"x":{"datum":320},"y":{"datum":2.1}}},
{"data":{"name":"one"},"mark":{"type":"text","text":"Females","align":"center","baseline":"middle","fontSize":10,"fontWeight":"bold"},"encoding":{"x":{"datum":212},"y":{"datum":2.66}}}
]}
]}
],
"config":{
"font":"Liberation Sans",
"view":{"stroke":null},
"axis":{"grid":false,"domainColor":"black","domainWidth":2.5,"tickColor":"black","tickWidth":2,"tickSize":4,"labelFont":"Liberation Sans","labelFontSize":9,"labelColor":"black","labelPadding":1,"labelFlush":false,"labelOverlap":false,"labelExpr":"''+datum.value","titleFont":"Liberation Sans","titleFontSize":9,"titleFontWeight":"bold","titleColor":"black"},
"axisY":{"titlePadding":1},
"text":{"font":"Liberation Sans","color":"black"}
}
}
